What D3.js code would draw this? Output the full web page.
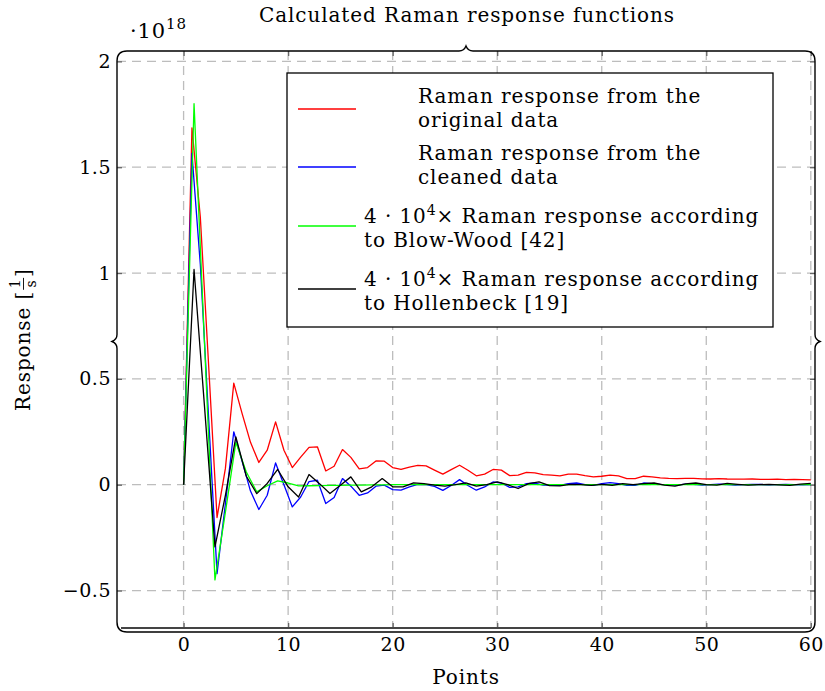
<!DOCTYPE html>
<html>
<head>
<meta charset="utf-8">
<script src="https://cdn.jsdelivr.net/npm/d3@7"></script>
<style>
  body { margin: 0; background: #fff; }
  text { font-family: "DejaVu Serif", serif; fill: #000; }
</style>
</head>
<body>
<div id="chart"></div>
<script>
const svgWidth = 825;
const svgHeight = 691;

// Tick values
const xTicks = [0, 10, 20, 30, 40, 50, 60];
const yTicks = [-0.5, 0, 0.5, 1, 1.5, 2];
const yTickLabels = ['\u22120.5', '0', '0.5', '1', '1.5', '2'];

// Sample spacing of the two kinds of curves (points)
const measuredStep = 0.8;
const modelStep = 1;

// Raman response from the original data (x = 0, 0.8, 1.6, ...)
const originalData = [
  0, 1.686, 1.265, 0.56, -0.155, 0.077, 0.48, 0.336, 0.2, 0.105,
  0.163, 0.297, 0.163, 0.081, 0.13, 0.176, 0.179, 0.065, 0.087, 0.166,
  0.129, 0.075, 0.081, 0.112, 0.111, 0.081, 0.072, 0.083, 0.091, 0.089,
  0.069, 0.05, 0.071, 0.092, 0.068, 0.042, 0.05, 0.072, 0.069, 0.043,
  0.045, 0.058, 0.056, 0.048, 0.045, 0.042, 0.05, 0.05, 0.043, 0.037,
  0.04, 0.045, 0.042, 0.029, 0.029, 0.04, 0.037, 0.032, 0.03, 0.029,
  0.03, 0.03, 0.028, 0.027, 0.029, 0.027, 0.026, 0.026, 0.027, 0.025,
  0.025, 0.026, 0.024, 0.025, 0.024, 0.023
];

// Raman response from the cleaned data (x = 0, 0.8, 1.6, ...)
const cleanedData = [
  0, 1.565, 1.04, 0.31, -0.42, -0.09, 0.25, 0.11, -0.03, -0.117,
  -0.05, 0.103, 0.0, -0.105, -0.058, 0.015, 0.021, -0.089, -0.06, 0.029,
  -0.007, -0.05, -0.039, -0.007, -0.002, -0.023, -0.026, -0.01, 0.002, 0.0,
  -0.008, -0.027, -0.004, 0.024, -0.004, -0.026, -0.01, 0.013, 0.008, -0.013,
  -0.01, 0.005, 0.008, -0.002, -0.003, -0.003, 0.005, 0.008, 0.0, -0.003,
  0.005, 0.01, 0.005, -0.003, -0.003, 0.008, 0.005, 0.002, 0.0, -0.002,
  0.003, 0.002, -0.002, 0.0, 0.003, 0.001, -0.002, 0.0, 0.002, 0.001,
  -0.001, 0.0, 0.002, 0.0, -0.001, 0.0
];

// 4e4 x Blow-Wood model (x = 0, 1, 2, ...)
const blowWood = [
  0, 1.8, 0.67, -0.45, -0.13, 0.2, 0.06, -0.034, -0.005, 0.018,
  0.008, -0.006, -0.005, -0.004, -0.003, -0.003, -0.002, -0.002, -0.001, -0.001,
  0, 0, 0, 0, 0, 0, 0, 0, 0, 0,
  0, 0, 0, 0, 0, 0, 0, 0, 0, 0,
  0, 0, 0, 0, 0, 0, 0, 0, 0, 0,
  0, 0, 0, 0, 0, 0, 0, 0, 0, 0,
  0
];

// 4e4 x Hollenbeck model (x = 0, 1, 2, ...)
const hollenbeck = [
  0, 1.017, 0.37, -0.294, -0.05, 0.226, 0.04, -0.042, 0.006, 0.072,
  -0.01, -0.058, 0.048, 0.005, -0.042, -0.003, 0.037, -0.034, -0.01, 0.029,
  -0.01, -0.01, 0.009, 0.005, -0.002, -0.007, 0.0, 0.009, -0.007, 0.0,
  0.013, 0.0, -0.018, 0.005, 0.013, -0.004, -0.006, 0.002, 0.0, -0.003,
  0.002, -0.003, 0.005, 0.0, 0.005, 0.008, -0.002, -0.007, 0.004, 0.008,
  0.0, -0.002, 0.006, 0.002, -0.002, 0.0, 0.002, -0.001, -0.003, 0.003,
  0.006
];

const legendLabels = [
  ['Raman response from the', 'original data'],
  ['Raman response from the', 'cleaned data'],
  ['4 \u00b7 10^{4}\u00d7 Raman response according', 'to Blow-Wood [42]'],
  ['4 \u00b7 10^{4}\u00d7 Raman response according', 'to Hollenbeck [19]']
];
const colors = ['#ff0000', '#0000ff', '#00ff00', '#000000'];

const series = [
  { values: originalData, step: measuredStep },
  { values: cleanedData, step: measuredStep },
  { values: blowWood, step: modelStep },
  { values: hollenbeck, step: modelStep }
];

const fontSize = 20;
const spacing = '0.9px';

const svg = d3.select('#chart').append('svg')
  .attr('width', svgWidth).attr('height', svgHeight);

const x = d3.scaleLinear().domain([-6.37, 60.4]).range([117, 815]);
const y = d3.scaleLinear().domain([-0.677, 2.049]).range([628, 51]);

const L = x.range()[0], R = x.range()[1];
const T = y.range()[1], B = y.range()[0];

// grid
const grid = svg.append('g')
  .attr('stroke', '#bdbdbd').attr('stroke-width', 1.3)
  .attr('stroke-dasharray', '9,6');
grid.selectAll('.vg').data(xTicks).enter().append('line')
  .attr('x1', d => x(d)).attr('x2', d => x(d))
  .attr('y1', T).attr('y2', B);
grid.selectAll('.hg').data(yTicks).enter().append('line')
  .attr('x1', L).attr('x2', R)
  .attr('y1', d => y(d)).attr('y2', d => y(d));

// axes with inward ticks
const tickColor = '#666';
const bottomAxis = svg.append('g')
  .attr('transform', `translate(0,${B})`)
  .call(d3.axisBottom(x).tickValues(xTicks).tickSize(-5).tickPadding(10));
const leftAxis = svg.append('g')
  .attr('transform', `translate(${L},0)`)
  .call(d3.axisLeft(y).tickValues(yTicks).tickSize(-5).tickPadding(6)
    .tickFormat((d, i) => yTickLabels[i]));
const topAxis = svg.append('g')
  .attr('transform', `translate(0,${T})`)
  .call(d3.axisTop(x).tickValues(xTicks).tickSize(-5).tickFormat(''));
const rightAxis = svg.append('g')
  .attr('transform', `translate(${R},0)`)
  .call(d3.axisRight(y).tickValues(yTicks).tickSize(-5).tickFormat(''));

[bottomAxis, leftAxis, topAxis, rightAxis].forEach(a => {
  a.select('.domain').remove();
  a.selectAll('line').attr('stroke', tickColor).attr('stroke-width', 1.3);
  a.selectAll('text')
    .style('font-family', '"DejaVu Serif", serif')
    .style('font-size', '19px')
    .style('letter-spacing', '0.5px')
    .attr('fill', '#000');
});

// curves
const line = d3.line()
  .x(d => x(d.x))
  .y(d => y(d.y));

series.forEach((s, k) => {
  const pts = s.values.map((v, i) => ({ x: i * s.step, y: v }));
  svg.append('path')
    .datum(pts)
    .attr('fill', 'none')
    .attr('stroke', colors[k])
    .attr('stroke-width', 1.3)
    .attr('stroke-linejoin', 'round')
    .attr('d', line);
});

// bottom axis line
svg.append('line')
  .attr('x1', L + 4).attr('x2', R - 4)
  .attr('y1', B).attr('y2', B)
  .attr('stroke', '#444').attr('stroke-width', 1.8);

// brace decorated frame
function framePath(l, r, t, b) {
  const rad = 10, mx = (l + r) / 2, my = (t + b) / 2, amp = 5;
  return `M${l},${my - 7} L${l},${t + rad} Q${l},${t} ${l + rad},${t}` +
    ` L${mx - 7},${t} Q${mx - 2},${t} ${mx},${t - amp} Q${mx + 2},${t} ${mx + 7},${t}` +
    ` L${r - rad},${t} Q${r},${t} ${r},${t + rad}` +
    ` L${r},${my - 7} Q${r},${my - 2} ${r + amp},${my} Q${r},${my + 2} ${r},${my + 7}` +
    ` L${r},${b - rad} Q${r},${b} ${r - rad},${b}` +
    ` L${l + rad},${b} Q${l},${b} ${l},${b - rad}` +
    ` L${l},${my + 7} Q${l},${my + 2} ${l - amp},${my} Q${l},${my - 2} ${l},${my - 7} Z`;
}
svg.append('path')
  .attr('d', framePath(L, R, T, B + 4))
  .attr('fill', 'none')
  .attr('stroke', '#000')
  .attr('stroke-width', 1.4);

// text with ^{...} superscripts
function richText(sel, str, size) {
  const parts = str.split(/\^\{([^}]*)\}/);
  const lift = Math.round(size * 0.42);
  let raised = false;
  parts.forEach((p, i) => {
    if (p === '') return;
    const sup = i % 2 === 1;
    const ts = sel.append('tspan').text(p);
    if (sup) {
      ts.attr('dy', -lift).style('font-size', Math.round(size * 0.7) + 'px');
      raised = true;
    } else if (raised) {
      ts.attr('dy', lift);
      raised = false;
    }
  });
}

// legend
const legend = svg.append('g');
legend.append('rect')
  .attr('x', 287).attr('y', 73)
  .attr('width', 486).attr('height', 254)
  .attr('fill', '#fff').attr('stroke', '#000').attr('stroke-width', 1.3);

const legendRows = [
  { lineY: 109, textX: 418, base: 103 },
  { lineY: 167, textX: 418, base: 160 },
  { lineY: 226, textX: 364, base: 223 },
  { lineY: 289, textX: 364, base: 286 }
];
legendRows.forEach((r, k) => {
  legend.append('line')
    .attr('x1', 298).attr('x2', 356)
    .attr('y1', r.lineY).attr('y2', r.lineY)
    .attr('stroke', colors[k]).attr('stroke-width', 1.3);
  legendLabels[k].forEach((txt, j) => {
    const t = legend.append('text')
      .attr('x', r.textX).attr('y', r.base + j * 24)
      .style('font-size', fontSize + 'px')
      .style('letter-spacing', spacing);
    richText(t, txt, fontSize);
  });
});

// title
svg.append('text')
  .attr('x', 467).attr('y', 22)
  .attr('text-anchor', 'middle')
  .style('font-size', fontSize + 'px')
  .style('letter-spacing', spacing)
  .text('Calculated Raman response functions');

// scale factor
const sf = svg.append('text')
  .attr('x', 130).attr('y', 38)
  .style('font-size', '21px')
  .style('letter-spacing', spacing);
richText(sf, '\u00b710^{18}', 21);

// x label
svg.append('text')
  .attr('x', 466).attr('y', 684)
  .attr('text-anchor', 'middle')
  .style('font-size', fontSize + 'px')
  .style('letter-spacing', spacing)
  .text('Points');

// y label with fraction
const yl = svg.append('g').attr('transform', 'translate(30,340) rotate(-90)');
const t1 = yl.append('text').style('font-size', fontSize + 'px')
  .style('letter-spacing', spacing).text('Response [');
const w1 = t1.node().getComputedTextLength();
const num = yl.append('text').style('font-size', '14px').attr('text-anchor', 'middle').text('1');
const den = yl.append('text').style('font-size', '14px').attr('text-anchor', 'middle').text('s');
const fw = Math.max(num.node().getComputedTextLength(), den.node().getComputedTextLength()) + 5;
const t3 = yl.append('text').style('font-size', fontSize + 'px').text(']');
const w3 = t3.node().getComputedTextLength();
const start = -(w1 + fw + w3) / 2;
t1.attr('x', start);
num.attr('x', start + w1 + fw / 2).attr('y', -10);
den.attr('x', start + w1 + fw / 2).attr('y', 6);
yl.append('line')
  .attr('x1', start + w1 + 1).attr('x2', start + w1 + fw - 1)
  .attr('y1', -6.5).attr('y2', -6.5)
  .attr('stroke', '#000').attr('stroke-width', 0.9);
t3.attr('x', start + w1 + fw);
</script>
</body>
</html>
